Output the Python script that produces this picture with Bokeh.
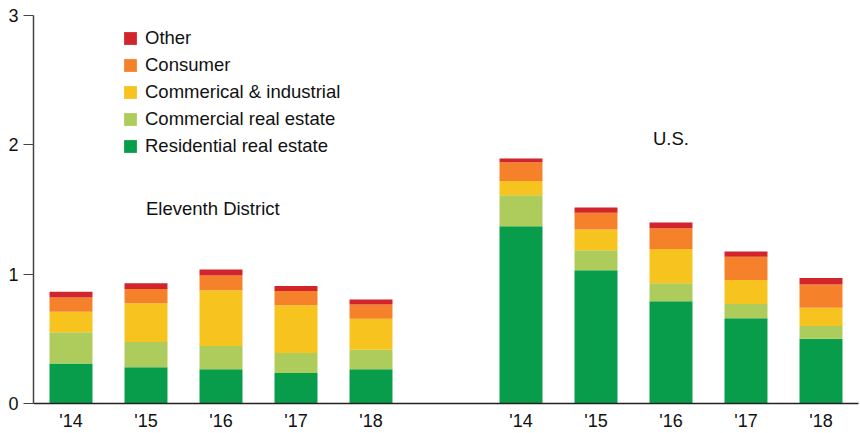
from bokeh.plotting import figure
from bokeh.models import ColumnDataSource, FixedTicker, Legend, LegendItem, Label, Range1d
from bokeh.embed import file_html
from bokeh.resources import INLINE

# ---- data ----
years = ["'14", "'15", "'16", "'17", "'18"]
groups = ["Eleventh District", "U.S."]
series = ["Residential real estate", "Commercial real estate", "Commerical & industrial", "Consumer", "Other"]
colors = ["#089D4A", "#AECC5C", "#F6C31F", "#F5822B", "#D2252B"]

res_d = [0.31, 0.28, 0.265, 0.235, 0.265]
cre_d = [0.24, 0.195, 0.18, 0.155, 0.15]
ci_d = [0.16, 0.30, 0.43, 0.37, 0.24]
con_d = [0.11, 0.11, 0.115, 0.11, 0.11]
oth_d = [0.045, 0.045, 0.047, 0.038, 0.039]

res_u = [1.37, 1.03, 0.79, 0.66, 0.50]
cre_u = [0.24, 0.155, 0.14, 0.11, 0.10]
ci_u = [0.11, 0.16, 0.265, 0.185, 0.14]
con_u = [0.145, 0.13, 0.16, 0.18, 0.18]
oth_u = [0.03, 0.04, 0.045, 0.04, 0.05]

y_ticks = [0, 1, 2, 3]

# ---- positions: two groups of five with a gap of one slot ----
n = len(years)
xs = list(range(n)) + [n + 1 + i for i in range(n)]
labels = years + years

src = ColumnDataSource(dict(
    x=xs,
    res=res_d + res_u,
    cre=cre_d + cre_u,
    ci=ci_d + ci_u,
    con=con_d + con_u,
    oth=oth_d + oth_u,
))
keys = ["res", "cre", "ci", "con", "oth"]

FONT = "Liberation Sans"
TXT = "18.5px"
TICK = "18px"

p = figure(width=860, height=433, output_backend="svg", toolbar_location=None,
           x_range=Range1d(-0.5, 10.5), y_range=Range1d(0, 3),
           min_border_left=33, min_border_right=2, min_border_top=15, min_border_bottom=30)
p.outline_line_color = None
p.xgrid.visible = False
p.ygrid.visible = False
p.background_fill_color = "white"
p.border_fill_color = "white"

renderers = p.vbar_stack(keys, x="x", width=0.573, source=src, color=colors, line_color=None)

# axes
p.yaxis.ticker = FixedTicker(ticks=y_ticks)
p.yaxis.minor_tick_line_color = None
p.yaxis.major_tick_in = 0
p.yaxis.major_tick_out = 10
p.yaxis.major_tick_line_color = "#444444"
p.yaxis.major_tick_line_width = 1.2
p.yaxis.axis_line_color = "#444444"
p.yaxis.axis_line_width = 1.5
p.yaxis.major_label_standoff = 5
p.yaxis.major_label_text_font = FONT
p.yaxis.major_label_text_font_size = TICK
p.yaxis.major_label_text_color = "#111111"

p.xaxis.ticker = FixedTicker(ticks=xs)
p.xaxis.major_label_overrides = {x: l for x, l in zip(xs, labels)}
p.xaxis.minor_tick_line_color = None
p.xaxis.major_tick_line_color = None
p.xaxis.major_tick_in = 0
p.xaxis.major_tick_out = 0
p.xaxis.axis_line_color = "#222222"
p.xaxis.axis_line_width = 1.5
p.xaxis.major_label_standoff = 7
p.xaxis.major_label_text_font = FONT
p.xaxis.major_label_text_font_size = TICK
p.xaxis.major_label_text_color = "#111111"

# legend (top-down order: Other ... Residential)
items = [LegendItem(label=series[i], renderers=[renderers[i]]) for i in reversed(range(len(series)))]
legend = Legend(items=items, location=(89, 246), orientation="vertical",
                padding=0, margin=0, spacing=5,
                glyph_width=16, glyph_height=16, label_height=20,
                label_standoff=7,
                label_text_font=FONT, label_text_font_size=TXT, label_text_color="#111111",
                border_line_color=None, background_fill_alpha=0)
p.add_layout(legend)

# group labels
p.add_layout(Label(x=1.0, y=1.51, text=groups[0], text_font=FONT, text_font_size=TXT,
                   text_baseline="middle", text_align="left", text_color="#111111"))
p.add_layout(Label(x=8.0, y=2.05, text=groups[1], text_font=FONT, text_font_size=TXT,
                   text_baseline="middle", text_align="center", text_color="#111111"))

open("out.html", "w").write(file_html(p, INLINE))
